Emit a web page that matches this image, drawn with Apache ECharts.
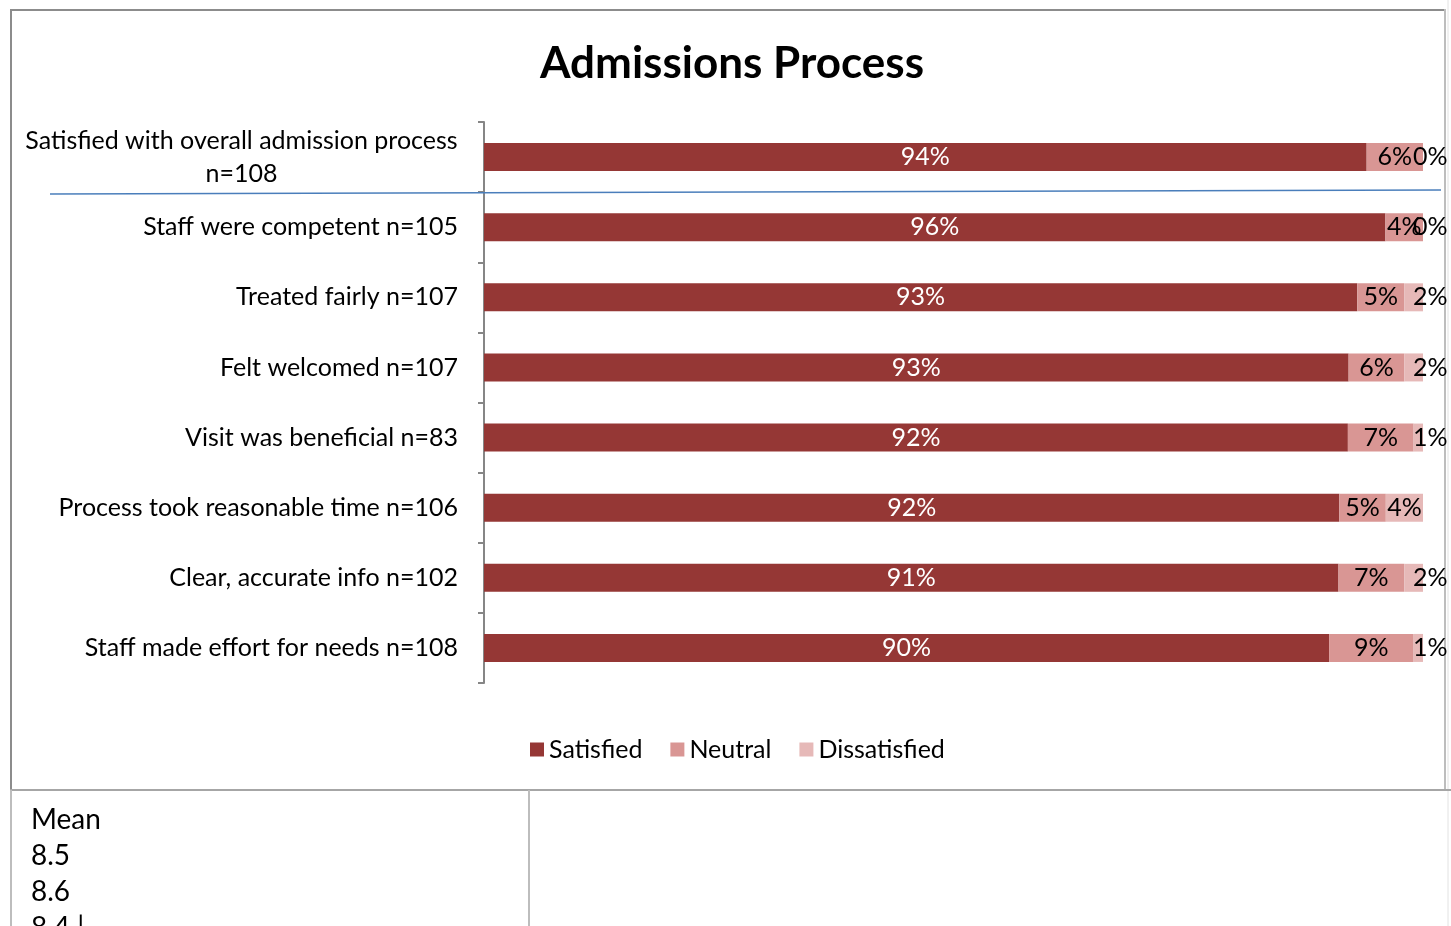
<!DOCTYPE html>
<html>
<head>
<meta charset="utf-8">
<script src="https://cdn.jsdelivr.net/npm/echarts@6/dist/echarts.min.js"></script>
<style>
  html, body { margin: 0; padding: 0; background: #fff; }
  #chart { width: 1451px; height: 926px; }
</style>
</head>
<body>
<div id="chart"></div>
<script>
// Survey items (top to bottom) and response shares in percent
const categories = [
  'Satisfied with overall admission process\nn=108',
  'Staff were competent n=105',
  'Treated fairly n=107',
  'Felt welcomed n=107',
  'Visit was beneficial n=83',
  'Process took reasonable time n=106',
  'Clear, accurate info n=102',
  'Staff made effort for needs n=108'
];
const satisfied    = [94, 96, 93, 93, 92, 92, 91, 90];
const neutral      = [6, 4, 5, 6, 7, 5, 7, 9];
const dissatisfied = [0, 0, 2, 2, 1, 4, 2, 1];
const seriesNames  = ['Satisfied', 'Neutral', 'Dissatisfied'];
const meanLines    = ['Mean', '8.5', '8.6', '8.4 |'];

const FONT = 'Lato, Carlito, Calibri, "Noto Sans", sans-serif';
const TEXT_SIZE = 25;
const colors = ['#953735', '#D99694', '#E6B9B8'];

// 100% stacking: each row is scaled to its own total, labels keep the rounded shares
const rowTotals = satisfied.map((v, i) => v + neutral[i] + dissatisfied[i]);
function toSeriesData(values, smallLabelShift) {
  return values.map((v, i) => {
    const item = { value: v / rowTotals[i] * 100, raw: v };
    if (smallLabelShift && v < 3) {
      item.label = { position: ['100%', '50%'], align: 'left', verticalAlign: 'middle', offset: [-10, 0] };
    }
    return item;
  });
}

// width of the wrapped first category line, so the second line can be centred under it
const measureCtx = document.createElement('canvas').getContext('2d');
measureCtx.font = TEXT_SIZE + 'px ' + FONT;
const firstLineWidth = Math.ceil(measureCtx.measureText(categories[0].split('\n')[0]).width);

const chart = echarts.init(document.getElementById('chart'));

const barLabel = (color) => ({
  show: true,
  position: 'inside',
  color: color,
  fontFamily: FONT,
  fontSize: TEXT_SIZE,
  formatter: (p) => p.data.raw + '%'
});

const graphicEls = [
  // chart frame
  { type: 'line', shape: { x1: 10, y1: 10, x2: 1445, y2: 10 }, style: { stroke: '#8c8c8c', lineWidth: 2 }, silent: true },
  { type: 'line', shape: { x1: 11, y1: 9, x2: 11, y2: 790 }, style: { stroke: '#8c8c8c', lineWidth: 2 }, silent: true },
  { type: 'line', shape: { x1: 1445, y1: 9, x2: 1445, y2: 790 }, style: { stroke: '#bdbdbd', lineWidth: 2 }, silent: true },
  { type: 'line', shape: { x1: 1448, y1: 0, x2: 1448, y2: 926 }, style: { stroke: '#e2e2e2', lineWidth: 1 }, silent: true },
  // mean table below the chart
  { type: 'line', shape: { x1: 10, y1: 790, x2: 1451, y2: 790 }, style: { stroke: '#a6a6a6', lineWidth: 2 }, silent: true },
  { type: 'line', shape: { x1: 11, y1: 790, x2: 11, y2: 926 }, style: { stroke: '#bdbdbd', lineWidth: 2 }, silent: true },
  { type: 'line', shape: { x1: 529, y1: 790, x2: 529, y2: 926 }, style: { stroke: '#bdbdbd', lineWidth: 2 }, silent: true },
  // separator under the overall item
  { type: 'line', z: 100, shape: { x1: 50, y1: 194, x2: 1441, y2: 190 }, style: { stroke: '#4A7EBB', lineWidth: 1.5 }, silent: true }
];
meanLines.forEach((t, i) => {
  graphicEls.push({
    type: 'text', left: 31, top: 806 + i * 36, silent: true,
    style: { text: t, fill: '#000', font: '28px ' + FONT }
  });
});

chart.setOption({
  animation: false,
  title: {
    text: 'Admissions Process',
    left: 727, top: 37, textAlign: 'center',
    textStyle: { fontFamily: FONT, fontSize: 44, fontWeight: 'bold', color: '#000' }
  },
  legend: {
    data: seriesNames,
    left: 530, top: 737, padding: 0,
    icon: 'rect', itemWidth: 14, itemHeight: 14, itemGap: 28, itemTextGap: 6,
    textStyle: { fontFamily: FONT, fontSize: TEXT_SIZE, color: '#000' }
  },
  grid: { left: 484, right: 28, top: 122, bottom: 243, containLabel: false },
  xAxis: { type: 'value', min: 0, max: 100, show: false },
  yAxis: {
    type: 'category',
    inverse: true,
    data: categories,
    axisLine: { show: true, lineStyle: { color: '#868686', width: 2 } },
    axisTick: { show: true, length: 6, lineStyle: { color: '#868686', width: 2 } },
    axisLabel: {
      margin: 26,
      color: '#000',
      fontFamily: FONT,
      fontSize: TEXT_SIZE,
      lineHeight: 33,
      formatter: (v) => {
        if (v.indexOf('\n') >= 0) {
          return v.split('\n').map(l => '{c|' + l + '}').join('\n');
        }
        return v;
      },
      rich: { c: { width: firstLineWidth, align: 'center', fontFamily: FONT, fontSize: TEXT_SIZE, lineHeight: 33, color: '#000' } }
    },
    splitLine: { show: false }
  },
  series: [
    { name: seriesNames[0], type: 'bar', stack: 'all', barWidth: 28, itemStyle: { color: colors[0] },
      label: barLabel('#fff'), data: toSeriesData(satisfied, false) },
    { name: seriesNames[1], type: 'bar', stack: 'all', barWidth: 28, itemStyle: { color: colors[1] },
      label: barLabel('#000'), data: toSeriesData(neutral, false) },
    { name: seriesNames[2], type: 'bar', stack: 'all', barWidth: 28, itemStyle: { color: colors[2] },
      label: barLabel('#000'), data: toSeriesData(dissatisfied, true) }
  ],
  graphic: graphicEls
});
</script>
</body>
</html>
